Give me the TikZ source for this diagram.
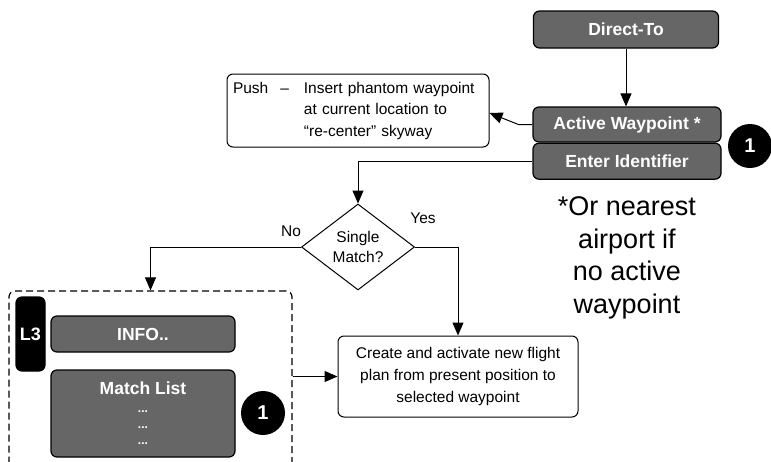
\documentclass[tikz,border=0pt]{standalone}
\usepackage{fontspec}
\setmainfont{Liberation Sans}
\usetikzlibrary{positioning,shapes.geometric,arrows.meta}
\definecolor{keygray}{RGB}{102,102,102}

\begin{document}
\begin{tikzpicture}[x=1pt, y=-1pt,
            key/.style={draw, rectangle, fill=keygray, text=white, rounded corners=6pt, line width=1.2pt, inner sep=0pt, minimum width=186pt, minimum height=36pt, font=\fontsize{17.5}{21}\selectfont\bfseries},
            note/.style={draw, rectangle, rounded corners=6pt, line width=1pt, inner sep=0pt, align=center, font=\fontsize{15.5}{22}\selectfont},
            badge/.style={circle, fill=black, text=white, inner sep=0pt, minimum size=44pt, font=\fontsize{20}{24}\selectfont\bfseries},
            answer/.style={font=\fontsize{15.5}{19}\selectfont},
            arrow/.style={-{Triangle[length=13pt,width=11pt]}, line width=1pt}
        ]
            \useasboundingbox (0,0) rectangle (771,461);
            \clip (0,0) rectangle (771,461);

            \node (direct) [key, minimum width=185pt, minimum height=37pt] at (626,29.5) {Direct-To};
            \node (active) [key, minimum width=188pt, minimum height=35pt] at (627,124.5) {Active Waypoint *};
            \node (ident) [key, minimum width=188pt, below=0pt of active] {Enter Identifier};
            \node (badge1) [badge] at (750,146) {1};
            \node (push) [note, align=left, inner xsep=6pt, text width=250pt, minimum height=73pt, font=\fontsize{15.5}{21.5}\selectfont] at (358,110.5) {\begin{tabular}{@{}l@{\hspace{15pt}}l@{}}Push\hspace{12pt}– & Insert phantom waypoint\\ & at current location to\\ & “re-center” skyway\end{tabular}};

            \node (single) [draw, diamond, shape aspect=1.31, inner sep=0pt, minimum width=113pt, minimum height=86pt, line width=1pt, align=center, font=\fontsize{15.5}{20}\selectfont] at (358,247) {Single\\Match?};
            \node (no) [answer] at (291,231) {No};
            \node (yes) [answer] at (423,218) {Yes};

            \node (footnote) [align=center, font=\fontsize{27}{32.5}\selectfont] at (627,258) {*Or nearest\\airport if\\no active\\waypoint};

            % dashed group with the L3 pages
            \node (group) [draw, dash pattern=on 7pt off 4pt, rounded corners=6pt, line width=1.2pt, inner sep=0pt, minimum width=283pt, minimum height=190pt] at (150.5,386) {};
            \node (level) [key, fill=black, minimum width=29pt, minimum height=74pt, font=\fontsize{18}{20}\selectfont\bfseries] at (30.5,334) {L3};
            \node (info) [key, minimum width=184pt, minimum height=36pt] at (143,334) {INFO..};
            \node (list) [key, minimum width=184pt, minimum height=87pt, align=center] at (143,413.5) {Match List\\[-3pt]{\fontsize{12}{12}\selectfont ...}\\[-5pt]{\fontsize{12}{12}\selectfont ...}\\[-5pt]{\fontsize{12}{12}\selectfont ...}};
            \node (badge2) [badge] at (263,413) {1};

            \node (create) [note, minimum width=240pt, minimum height=81pt] at (458,376.5) {Create and activate new flight\\plan from present position to\\selected waypoint};

            \draw [arrow] (direct) -- (direct |- active.north);
            \draw [arrow] (active.west) -- ++(-14,0) -- ([yshift=-2.5pt]push.east);
            \draw [arrow] (ident.west) -| (single.north);
            \draw [arrow] (single.west) -| (group.north);
            \draw [arrow] (single.east) -| (create.north);
            \draw [arrow] (group.east |- create.west) -- (create.west);
        \end{tikzpicture}
\end{document}
